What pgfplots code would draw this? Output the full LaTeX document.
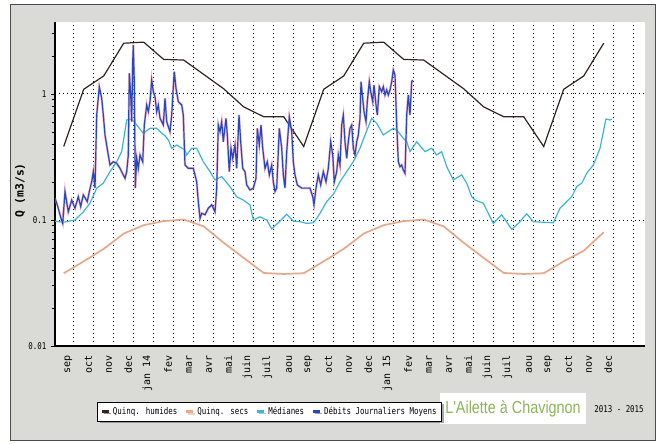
\documentclass[border=0pt]{standalone}
\usepackage{fontspec}
\setmainfont{DejaVu Sans}
\newfontfamily\monofont{DejaVu Sans Mono}
\newfontfamily\titlefont{Liberation Sans}
\usepackage{graphicx}
\usepackage{pgfplots}
\pgfplotsset{compat=1.18}
\usepackage{pgfplotstable}
\usetikzlibrary{shadows}
\definecolor{bgray}{RGB}{218,218,214}
\definecolor{qhum}{RGB}{50,35,30}
\definecolor{qsec}{RGB}{232,168,140}
\definecolor{med}{RGB}{60,180,215}
\definecolor{deb}{RGB}{40,70,190}
\definecolor{debhalo}{RGB}{235,150,170}
\definecolor{titgreen}{RGB}{140,180,90}
\newcommand\sm[1]{\scalebox{0.8}[1]{#1}}

\pgfplotstableread{
x y
-0.5 0.383
0.5 1.09
1.5 1.39
2.5 2.53
3.5 2.58
4.5 1.88
5.5 1.86
6.5 1.43
7.5 1.10
8.5 0.79
9.5 0.66
10.5 0.66
11.5 0.383
12.5 1.09
13.5 1.39
14.5 2.53
15.5 2.58
16.5 1.88
17.5 1.86
18.5 1.43
19.5 1.10
20.5 0.79
21.5 0.66
22.5 0.66
23.5 0.383
24.5 1.09
25.5 1.39
26.5 2.53
}\humides

\pgfplotstableread{
x y
-0.5 0.0378
0.5 0.047
1.5 0.059
2.5 0.078
3.5 0.091
4.5 0.098
5.5 0.101
6.5 0.089
7.5 0.066
8.5 0.050
9.5 0.038
10.5 0.0373
11.5 0.0378
12.5 0.047
13.5 0.059
14.5 0.078
15.5 0.091
16.5 0.098
17.5 0.101
18.5 0.089
19.5 0.066
20.5 0.050
21.5 0.038
22.5 0.0373
23.5 0.0378
24.5 0.047
25.5 0.057
26.5 0.080
}\secs

\pgfplotstableread{
x y
-0.93 0.098
-0.52 0.096
0.065 0.100
0.48 0.116
0.815 0.136
1.15 0.179
1.48 0.196
1.815 0.242
2.15 0.290
2.40 0.349
2.65 0.622
2.90 0.633
3.15 0.568
3.48 0.488
3.815 0.534
4.15 0.534
4.40 0.488
4.565 0.467
4.73 0.432
4.90 0.371
5.15 0.394
5.565 0.359
5.65 0.328
5.90 0.371
6.15 0.371
6.48 0.290
6.815 0.242
7.065 0.208
7.40 0.221
7.815 0.184
8.15 0.153
8.48 0.144
8.815 0.132
8.98 0.100
9.315 0.106
9.65 0.100
9.90 0.085
10.315 0.098
10.65 0.111
10.98 0.098
11.315 0.097
11.65 0.094
11.98 0.095
12.15 0.103
12.315 0.113
12.65 0.140
12.98 0.160
13.315 0.201
13.65 0.242
13.98 0.290
14.315 0.371
14.565 0.473
14.90 0.641
15.15 0.585
15.48 0.473
15.98 0.534
16.15 0.518
16.48 0.445
16.65 0.418
16.815 0.349
17.15 0.418
17.565 0.349
17.90 0.371
18.15 0.328
18.40 0.349
18.65 0.265
18.98 0.208
19.40 0.228
19.65 0.196
19.90 0.153
20.07 0.144
20.48 0.136
20.98 0.094
21.40 0.110
21.90 0.0844
22.23 0.094
22.65 0.112
22.98 0.097
23.98 0.095
24.315 0.124
24.65 0.140
24.90 0.153
25.15 0.184
25.40 0.196
25.65 0.235
25.98 0.273
26.315 0.371
26.61 0.633
26.815 0.622
26.90 0.633
}\medianes

\pgfplotstableread{
x y
-0.935 0.149
-0.82 0.132
-0.635 0.103
-0.55 0.094
-0.435 0.168
-0.27 0.116
-0.10 0.144
0.065 0.124
0.23 0.153
0.35 0.128
0.48 0.158
0.68 0.140
0.78 0.168
0.90 0.201
0.98 0.242
1.065 0.179
1.15 0.681
1.28 1.143
1.40 0.924
1.48 0.681
1.565 0.473
1.73 0.328
1.815 0.273
1.98 0.290
2.15 0.282
2.315 0.257
2.565 0.214
2.65 0.242
2.73 0.328
2.78 1.460
2.85 0.982
2.90 0.603
2.95 1.804
2.98 2.448
3.03 1.252
3.08 0.179
3.15 0.309
3.23 0.257
3.315 0.328
3.45 0.290
3.53 0.568
3.65 0.818
3.73 0.724
3.815 0.869
3.90 1.291
3.98 1.043
4.065 0.952
4.15 0.724
4.23 0.818
4.315 0.641
4.48 0.568
4.565 0.924
4.65 0.603
4.815 0.502
4.90 0.681
4.98 1.143
5.03 1.503
5.115 1.110
5.23 0.869
5.40 0.818
5.48 0.681
5.565 0.273
5.73 0.257
5.98 0.257
6.15 0.201
6.23 0.140
6.315 0.103
6.40 0.113
6.565 0.110
6.73 0.124
6.90 0.132
7.065 0.116
7.15 0.179
7.23 0.568
7.315 0.502
7.40 0.603
7.48 0.418
7.615 0.641
7.68 0.473
7.78 0.242
7.865 0.371
7.95 0.309
8.065 0.394
8.15 0.257
8.265 0.681
8.35 0.418
8.45 0.257
8.565 0.242
8.65 0.190
8.815 0.173
8.98 0.179
9.115 0.214
9.18 0.534
9.28 0.394
9.365 0.568
9.45 0.371
9.565 0.257
9.68 0.290
9.78 0.228
9.90 0.273
9.98 0.201
10.065 0.168
10.15 0.179
10.28 0.534
10.40 0.371
10.48 0.228
10.565 0.179
10.65 0.348
10.78 0.660
10.90 0.502
10.98 0.290
11.065 0.228
11.18 0.190
11.40 0.179
11.65 0.179
11.815 0.179
11.95 0.153
12.015 0.132
12.115 0.179
12.23 0.228
12.35 0.190
12.48 0.242
12.615 0.201
12.73 0.257
12.85 0.418
12.95 0.328
13.03 0.201
13.15 0.242
13.23 0.328
13.315 0.273
13.40 0.568
13.48 0.681
13.565 0.418
13.65 0.309
13.73 0.418
13.815 0.534
13.90 0.568
13.98 0.371
14.065 0.328
14.15 0.418
14.23 0.473
14.315 0.641
14.365 1.252
14.45 0.924
14.515 0.724
14.615 0.603
14.68 0.869
14.78 1.252
14.85 1.043
14.95 0.869
15.015 1.179
15.115 0.818
15.18 0.681
15.28 1.143
15.40 1.043
15.48 1.143
15.565 0.982
15.65 1.076
15.73 0.982
15.815 1.076
15.90 1.252
15.98 1.551
16.065 1.415
16.15 0.568
16.23 0.290
16.315 0.265
16.40 0.273
16.48 0.249
16.565 0.235
16.65 0.681
16.73 0.982
16.815 0.681
16.90 1.252
16.95 1.291
}\debits

\begin{document}
\begin{tikzpicture}
\path[use as bounding box] (0,0) rectangle (494.25pt,-332.25pt);
\begin{scope}[x=0.75pt,y=-0.75pt]
\fill[white] (0,0) rectangle (659,443);
\filldraw[fill=bgray, draw=gray!60!black, line width=0.5pt] (10,4) rectangle (655,440);
\fill[white] (440,393) rectangle (586,424);
\node[font=\titlefont\fontsize{13pt}{13pt}\selectfont, text=titgreen, inner sep=0pt] at (513,409) {\scalebox{0.83}[1]{L'Ailette à Chavignon}};
\node[font=\monofont\fontsize{7pt}{7pt}\selectfont, inner sep=0pt] at (619,409) {\sm{2013 - 2015}};
\end{scope}
\begin{axis}[
  at={(41.25pt,-259.5pt)}, anchor=south west,
  scale only axis, width=442.5pt, height=243pt,
  xmin=-0.935, xmax=28.565,
  ymode=log, ymin=0.01, ymax=3.727,
  axis lines*=left,
  axis line style={black, line width=0.8pt},
  axis background/.style={fill=white},
  xtick={0,...,28},
  xticklabels={sep,oct,nov,dec,jan 14,fev,mar,avr,mai,juin,juil,aou,sep,oct,nov,dec,jan 15,fev,mar,avr,mai,juin,juil,aou,sep,oct,nov,dec,{}},
  xtick style={draw=none},
  xticklabel style={font=\monofont\fontsize{7.5pt}{7.5pt}\selectfont, yshift=-3pt, rotate=90, anchor=south east, inner sep=1pt},
  ytick={0.01,0.1,1},
  yticklabels={\sm{0.01},\sm{0.1},\sm{1}},
  minor ytick={0.02,0.03,0.04,0.05,0.06,0.07,0.08,0.09,0.2,0.3,0.4,0.5,0.6,0.7,0.8,0.9,2,3},
  yticklabel style={font=\monofont\fontsize{7pt}{7pt}\selectfont},
  tick align=outside,
  major tick length=3pt, minor tick length=2.25pt,
  tick style={black, line width=0.6pt},
  xmajorgrids, ymajorgrids,
  major grid style={black, line width=0.75pt, dash pattern=on 0.75pt off 2.25pt},
  ylabel={Q (m3/s)},
  ylabel style={font=\monofont\bfseries\fontsize{8.5pt}{8.5pt}\selectfont, at={(axis description cs:-0.059,0.48)}, anchor=center},
  legend columns=4,
  legend style={at={(axis description cs:0.364,-0.203)}, anchor=center,
    draw=black, line width=0.8pt, fill=white,
    font=\monofont\fontsize{7pt}{7pt}\selectfont,
    inner xsep=2pt, inner ysep=1.5pt,
    drop shadow={shadow xshift=1.5pt, shadow yshift=-1.5pt, fill=gray!70!black},
    /tikz/every even column/.append style={column sep=3.5pt}},
  legend image code/.code={\draw[#1, line width=2pt] (0pt,0pt) -- (5.5pt,0pt);},
]
\addplot[qhum, line width=0.9pt] table[x=x,y=y] {\humides};
\addlegendentry{\sm{Quinq. humides}}
\addplot[qsec, line width=1.3pt] table[x=x,y=y] {\secs};
\addlegendentry{\sm{Quinq. secs}}
\addplot[med, line width=0.9pt] table[x=x,y=y] {\medianes};
\addlegendentry{\sm{Médianes}}
\addplot[debhalo, line width=1.8pt, opacity=0.6, forget plot] table[x=x,y=y] {\debits};
\addplot[deb, line width=0.9pt] table[x=x,y=y] {\debits};
\addlegendentry{\sm{Débits Journaliers Moyens}}
\end{axis}
\end{tikzpicture}
\end{document}
